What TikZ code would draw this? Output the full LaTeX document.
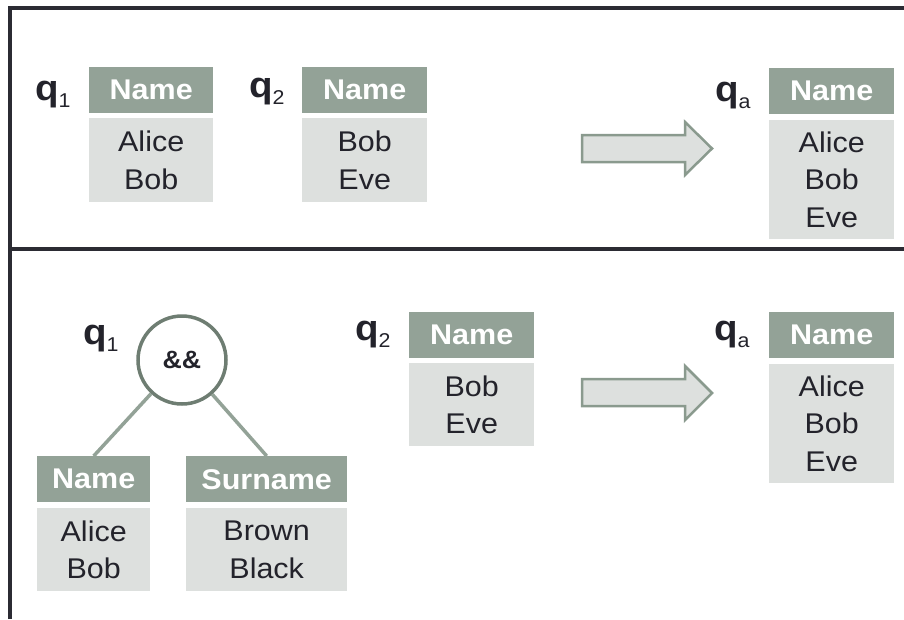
\documentclass[tikz,border=0pt]{standalone}
\usepackage{fontspec}
\setmainfont{Liberation Sans}[FakeStretch=1.07]
\definecolor{hdrc}{HTML}{93A297}
\definecolor{bodyc}{HTML}{DDE0DE}
\definecolor{framec}{HTML}{2B2B33}
\definecolor{ringc}{HTML}{6E7D72}
\definecolor{arrowc}{HTML}{8A9A8E}
\definecolor{inkc}{HTML}{23232B}
% query label: bold q with a lowered subscript
\newcommand{\qlab}[1]{{\bfseries\fontsize{36}{38}\selectfont q}\raisebox{-7.5pt}{\fontsize{20}{22}\selectfont #1}}
\tikzset{
  hdr/.style={fill=hdrc, inner sep=0pt, anchor=north west, minimum height=46pt,
    text=white, font=\bfseries\fontsize{28.5}{30}\selectfont},
  rows/.style={fill=bodyc, inner sep=0pt, anchor=north west, align=center,
    text=inkc, font=\fontsize{28.5}{37.5}\selectfont},
  qname/.style={anchor=base west, inner sep=0pt, text=inkc},
  framepen/.style={draw=framec, line width=3.5pt},
  blockarrow/.style={fill=bodyc, draw=arrowc, line width=2.5pt, line join=miter},
  opnode/.style={circle, draw=ringc, line width=3.5pt, minimum size=88pt, inner sep=0pt,
    text=inkc, font=\bfseries\fontsize{25}{27}\selectfont},
  branch/.style={draw=hdrc, line width=3.5pt}
}
\begin{document}
\begin{tikzpicture}[x=1pt,y=-1pt]
\useasboundingbox (0,0) rectangle (904,619);

% frame: top edge, left edge and the divider between the two cases
\draw[framepen] (10,619) -- (10,8) -- (904,8);
\draw[framepen] (10,249) -- (904,249);

% ---- first case: two plain queries ----
\node[qname] (q1a) at (35,100) {\qlab{1}};
\node[hdr, minimum width=124pt] (t1h) at (89,67) {Name};
\node[rows, minimum width=124pt, minimum height=84pt] (t1b) at (89,118) {Alice\\Bob};

\node[qname] (q2a) at (249,97) {\qlab{2}};
\node[hdr, minimum width=125pt] (t2h) at (302,67) {Name};
\node[rows, minimum width=125pt, minimum height=84pt] (t2b) at (302,118) {Bob\\Eve};

\draw[blockarrow] (582,135) -- (685,135) -- (685,122) -- (712,148.5) -- (685,175) -- (685,162) -- (582,162) -- cycle;

\node[qname] (qaa) at (715,101) {\qlab{a}};
\node[hdr, minimum width=125pt] (tah) at (769,68) {Name};
\node[rows, minimum width=125pt, minimum height=119pt] (tab) at (769,120) {Alice\\Bob\\Eve};

% ---- second case: q1 is a conjunction ----
\node[qname] (q1b) at (83,344) {\qlab{1}};
\node[opnode] (and) at (182,360) {\&\&};

\node[hdr, minimum width=113pt] (nh) at (37,456) {Name};
\node[rows, minimum width=113pt, minimum height=83pt] (nb) at (37,508) {Alice\\Bob};

\node[hdr, minimum width=161pt] (sh) at (186,456) {Surname};
\node[rows, minimum width=161pt, minimum height=83pt] (sb) at (186,508) {Brown\\Black};

\draw[branch] (and) -- (nh.north);
\draw[branch] (and) -- (sh.north);

\node[qname] (q2b) at (355,340) {\qlab{2}};
\node[hdr, minimum width=125pt] (u2h) at (409,312) {Name};
\node[rows, minimum width=125pt, minimum height=83pt] (u2b) at (409,363) {Bob\\Eve};

\draw[blockarrow] (582,379) -- (685,379) -- (685,366) -- (712,393) -- (685,420) -- (685,406) -- (582,406) -- cycle;

\node[qname] (qab) at (714,340) {\qlab{a}};
\node[hdr, minimum width=125pt] (uah) at (769,312) {Name};
\node[rows, minimum width=125pt, minimum height=119pt] (uab) at (769,364) {Alice\\Bob\\Eve};
\end{tikzpicture}
\end{document}
